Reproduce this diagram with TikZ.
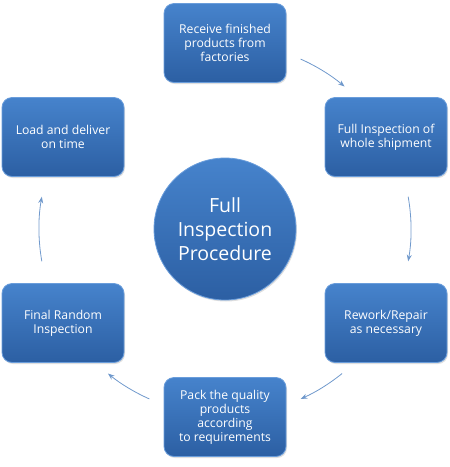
\documentclass[tikz,border=0pt]{standalone}
\usepackage{fontspec}
\setmainfont{Open Sans}
\usepackage{tikz}
\usetikzlibrary{arrows.meta,shadows}

\definecolor{boxtop}{HTML}{4683CC}
\definecolor{boxbottom}{HTML}{2C5FA3}
\definecolor{boxedge}{HTML}{6A9DDB}
\definecolor{flowblue}{HTML}{7099CC}

\begin{document}
\begin{tikzpicture}[x=1pt, y=-1pt, >=Stealth,
  stepbox/.style={rectangle, rounded corners=10pt, minimum width=122pt, minimum height=79pt,
    inner sep=0pt, top color=boxtop, bottom color=boxbottom, draw=boxedge, line width=0.8pt,
    drop shadow={opacity=0.25, shadow xshift=1pt, shadow yshift=-1.5pt},
    text=white, align=center, font=\fontsize{12.2}{14}\selectfont},
  hubdisk/.style={circle, minimum size=142pt, inner sep=0pt, top color=boxtop, bottom color=boxbottom,
    draw=boxedge, line width=0.8pt, drop shadow={opacity=0.25, shadow xshift=1pt, shadow yshift=-1.5pt},
    text=white, align=center, font=\fontsize{19.5}{24}\selectfont},
  flow/.style={->, draw=flowblue, line width=0.8pt}]
\path[use as bounding box] (0,0) rectangle (450,467);
\node[hubdisk] (hub) at (225,229) {Full\\Inspection\\Procedure};
\node[stepbox] (receive) at (225,43) {Receive finished\\products from\\factories};
\node[stepbox] (inspect) at (386,137) {Full Inspection of\\whole shipment};
\node[stepbox] (rework) at (386,323) {Rework/Repair\\as necessary};
\node[stepbox] (pack) at (225,417) {Pack the quality\\products\\according\\to requirements};
\node[stepbox] (final) at (63,323) {Final Random\\Inspection};
\node[stepbox] (deliver) at (63,137) {Load and deliver\\on time};
% arcs round the hub between the boxes
\foreach \a/\b in {-66/-50, -10/10, 51/66, 114/129, 170/190}
  \draw[flow] ([shift={(\a:186)}]hub.center) arc[start angle=\a, end angle=\b, radius=186];
\end{tikzpicture}
\end{document}
